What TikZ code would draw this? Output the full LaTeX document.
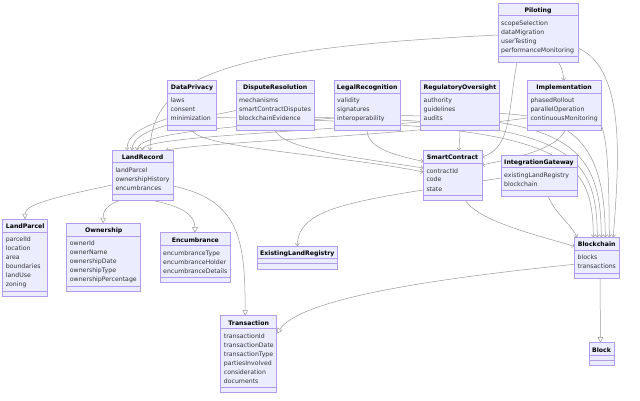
\documentclass[tikz,border=0pt]{standalone}
\usepackage{fontspec}
\setmainfont{DejaVu Sans}
\usetikzlibrary{calc,arrows.meta,backgrounds}
\definecolor{boxfill}{HTML}{ECECFF}
\definecolor{boxline}{HTML}{B09CEA}
\definecolor{edgec}{HTML}{9A9A9A}
\definecolor{memc}{HTML}{333333}
\tikzset{
  cls/.style={draw=boxline, fill=boxfill, line width=0.55pt, inner sep=0pt, outer sep=0pt, rectangle},
  ttl/.style={font=\fontsize{6.2}{7}\selectfont\bfseries, text=black, inner sep=0pt, anchor=base},
  mem/.style={font=\fontsize{6.2}{7}\selectfont, text=memc, inner sep=0pt, anchor=base west},
  sepline/.style={draw=boxline, line width=0.55pt},
  dep/.style={draw=edgec, line width=0.5pt, -{Straight Barb[length=2.2pt,width=4.2pt]}},
  inh/.style={draw=edgec, line width=0.5pt, -{Triangle[open,length=5.5pt,width=5.5pt,fill=white]}},
}
% #1 name, #2 left, #3 top, #4 width, #5 number of members, #6 title, #7 members
\newcommand\classbox[7]{%
  \pgfmathsetmacro\cbh{23+9*#5}%
  \node[cls, anchor=north west, minimum width=#4pt, minimum height=\cbh pt] (#1) at (#2,#3) {};
  \node[ttl] (#1-t) at ($(#1.north)+(0,9.3)$) {#6};
  \draw[sepline] ($(#1.north west)+(0,12.5)$) -- ($(#1.north east)+(0,12.5)$);
  \draw[sepline] ($(#1.north west)+(0,17.5+9*#5)$) -- ($(#1.north east)+(0,17.5+9*#5)$);
  \ifnum#5>0
    \foreach \txt [count=\i from 0] in {#7} {
      \node[mem] (#1-m\i) at ($(#1.north west)+(3,22.5+9*\i)$) {\txt};
    }
  \fi
}
\begin{document}
\begin{tikzpicture}[x=1pt,y=-1pt]
\useasboundingbox (0,0) rectangle (640,401);

\classbox{pil}{498}{3}{80}{4}{Piloting}{scopeSelection,dataMigration,userTesting,performanceMonitoring}
\classbox{dp}{167.5}{80.5}{49}{3}{DataPrivacy}{laws,consent,minimization}
\classbox{dr}{236}{80.5}{78.5}{3}{DisputeResolution}{mechanisms,smartContractDisputes,blockchainEvidence}
\classbox{lr}{334}{80.5}{66.5}{3}{LegalRecognition}{validity,signatures,interoperability}
\classbox{ro}{420.5}{80.5}{79}{3}{RegulatoryOversight}{authority,guidelines,audits}
\classbox{im}{527.3}{80.5}{73.5}{3}{Implementation}{phasedRollout,parallelOperation,continuousMonitoring}
\classbox{land}{112.3}{150}{60.5}{3}{LandRecord}{landParcel,ownershipHistory,encumbrances}
\classbox{sc}{423.3}{150.5}{58.5}{3}{SmartContract}{contractId,code,state}
\classbox{ig}{501}{155}{76}{2}{IntegrationGateway}{existingLandRegistry,blockchain}
\classbox{lp}{2.7}{219.3}{45}{6}{LandParcel}{parcelId,location,area,boundaries,landUse,zoning}
\classbox{own}{66.7}{223.3}{74}{5}{Ownership}{ownerId,ownerName,ownershipDate,ownershipType,ownershipPercentage}
\classbox{enc}{160}{232.7}{70.7}{3}{Encumbrance}{encumbranceType,encumbranceHolder,encumbranceDetails}
\classbox{elr}{257.3}{246}{80}{0}{ExistingLandRegistry}{}
\classbox{bc}{574.5}{237.3}{44.5}{2}{Blockchain}{blocks,transactions}
\classbox{tx}{220.7}{315.7}{56}{6}{Transaction}{transactionId,transactionDate,transactionType,partiesInvolved,consideration,documents}
\classbox{blk}{589}{342.7}{25}{0}{Block}{}

\begin{pgfonlayer}{background}
\fill[white] (0,0) rectangle (640,401);
% to LandRecord
\draw[dep] ($(pil.north west)+(0,32)$) .. controls (230,48) and (152,75) .. ($(land.north west)+(37.7,0)$);
\draw[dep] ($(dp.north west)+(0,38)$) .. controls (140,128) and (127,135) .. ($(land.north west)+(14.7,0)$);
\draw[dep] ($(dr.north west)+(0,30)$) .. controls (180,122) and (133,128) .. ($(land.north west)+(19.7,0)$);
\draw[dep] ($(lr.north west)+(0,37.5)$) .. controls (220,128) and (139,133) .. ($(land.north west)+(24.7,0)$);
\draw[dep] ($(ro.north west)+(0,41.5)$) .. controls (260,134) and (144,138) .. ($(land.north west)+(29.7,0)$);
\draw[dep] ($(im.north west)+(0,37.5)$) .. controls (380,138) and (230,140) .. ($(land.north west)+(53.7,0)$);
% to SmartContract
\draw[dep] ($(pil.south west)+(19,0)$) .. controls (508,110) and (512,148) .. ($(sc.north east)+(0,6.5)$);
\draw[dep] ($(im.south west)+(38,0)$) .. controls (555,150) and (515,158) .. ($(sc.north east)+(0,14.5)$);
\draw[dep] ($(ro.south west)+(39.5,0)$) .. controls (460,140) and (459,142) .. ($(sc.north west)+(35.7,0)$);
\draw[dep] ($(lr.south west)+(33,0)$) .. controls (368,150) and (400,156) .. ($(sc.north west)+(0,11)$);
\draw[dep] ($(dr.south west)+(39,0)$) .. controls (285,150) and (360,158) .. ($(sc.north west)+(0,17.5)$);
\draw[dep] ($(dp.south west)+(25,0)$) .. controls (200,148) and (340,155) .. ($(sc.north west)+(0,21.5)$);
% to Blockchain
\draw[dep] ($(dp.north east)+(0,37)$) .. controls (560,124) and (593,150) .. ($(bc.north west)+(18.8,0)$);
\draw[dep] ($(dr.north east)+(0,37)$) .. controls (567,121) and (597,150) .. ($(bc.north west)+(22.8,0)$);
\draw[dep] ($(lr.north east)+(0,35)$) .. controls (572,118) and (601,150) .. ($(bc.north west)+(26.8,0)$);
\draw[dep] ($(ro.north east)+(0,33)$) .. controls (578,116) and (605,150) .. ($(bc.north west)+(30.8,0)$);
\draw[dep] ($(im.north east)+(0,44)$) .. controls (609,140) and (609,200) .. ($(bc.north west)+(34.8,0)$);
\draw[dep] ($(pil.north east)+(0,45)$) .. controls (628,70) and (618,170) .. ($(bc.north west)+(38.8,0)$);
% others
\draw[dep] ($(pil.south west)+(60,0)$) .. controls (562,68) .. ($(im.north west)+(36.7,0)$);
\draw[dep] ($(ig.south west)+(47,0)$) .. controls (556,215) and (572,225) .. ($(bc.north west)+(2.5,0)$);
\draw[dep] ($(ig.north west)+(0,23)$) .. controls (360,200) and (298,205) .. ($(elr.north west)+(40,0)$);
\draw[dep] ($(sc.south west)+(42,0)$) .. controls (480,222) and (540,236) .. ($(bc.north west)+(0,9)$);
\draw[inh] ($(land.north west)+(0,35)$) .. controls (50,198) and (25,205) .. ($(lp.north west)+(22.3,0)$);
\draw[inh] ($(land.south west)+(8,0)$) .. controls (105,206) and (103,212) .. ($(own.north west)+(36.5,0)$);
\draw[inh] ($(land.south west)+(38,0)$) .. controls (182,206) and (195,215) .. ($(enc.north west)+(35,0)$);
\draw[inh] ($(land.north east)+(0,36)$) .. controls (240,200) and (245,240) .. ($(tx.north west)+(24.5,0)$);
\draw[inh] ($(bc.north west)+(0,27)$) .. controls (420,280) and (300,300) .. ($(tx.north east)+(0,18)$);
\draw[inh] ($(bc.south west)+(25.5,0)$) -- ($(blk.north west)+(11.5,0)$);
\end{pgfonlayer}
\end{tikzpicture}
\end{document}
